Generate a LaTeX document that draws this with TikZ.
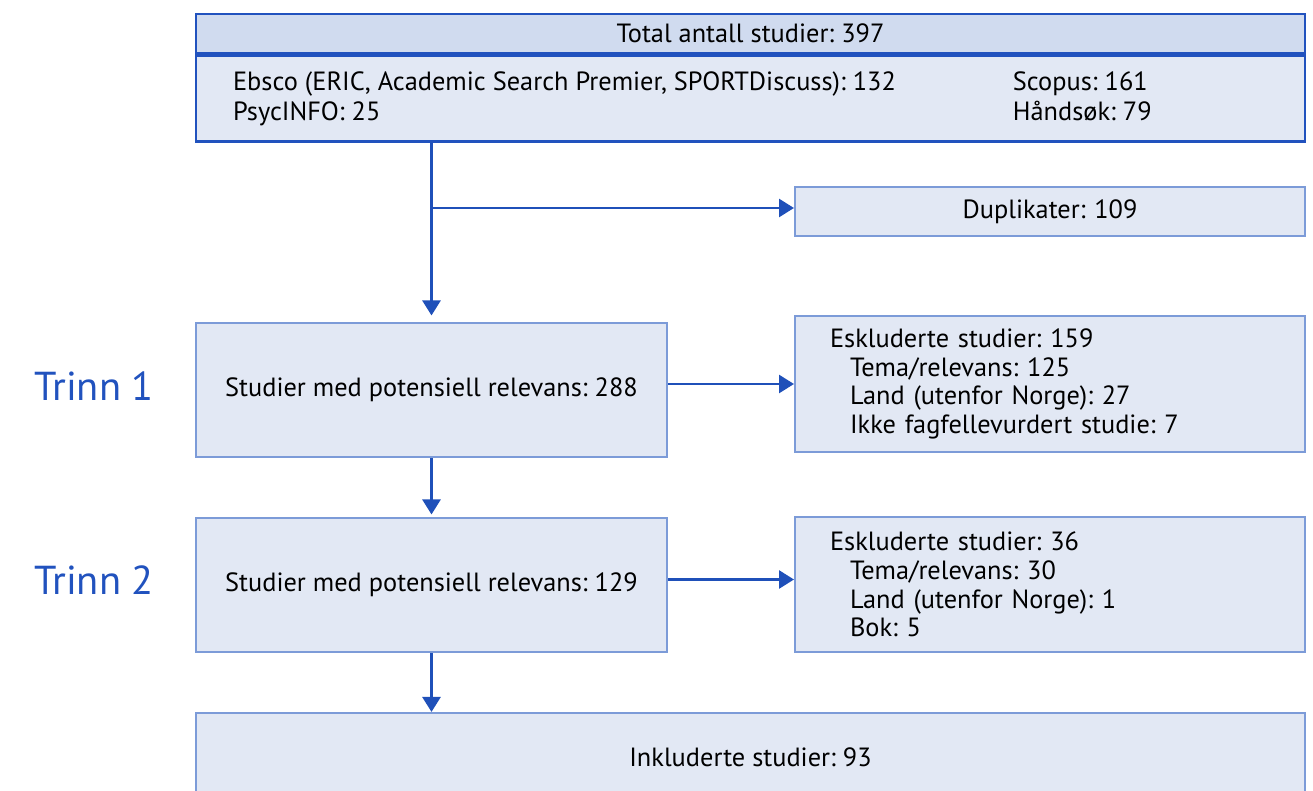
\documentclass[tikz,border=0pt]{standalone}
\usepackage{fontspec}
\setmainfont{PT Sans}
\usepackage{xcolor}
\usepackage{tikz}
\usetikzlibrary{arrows.meta, positioning, calc}
\definecolor{boxfill}{HTML}{E2E8F4}
\definecolor{headfill}{HTML}{D0DBEF}
\definecolor{darkline}{HTML}{2152BE}
\definecolor{lightline}{HTML}{7C9BD8}
\definecolor{arrowblue}{HTML}{1F50B9}
\tikzset{
  topbox/.style={draw=darkline, line width=1.5pt, fill=boxfill, minimum width=22.18cm, inner sep=0pt},
  stage/.style={draw=lightline, line width=1.2pt, fill=boxfill, minimum width=9.42cm, minimum height=2.68cm, align=center},
  sidebox/.style={draw=lightline, line width=1.2pt, fill=boxfill, text width=8.8cm, inner xsep=0.7cm, align=left},
  flow/.style={-{Triangle[length=3mm, width=3.6mm]}, line width=1.5pt, draw=arrowblue, fill=arrowblue},
  steplabel/.style={text=darkline, font=\fontsize{23}{27}\selectfont}
}
\newcommand{\ind}{\hspace*{0.4cm}}
\frenchspacing

\begin{document}
\begin{tikzpicture}[x=0.02cm, y=-0.02cm, font=\fontsize{15}{16.3}\selectfont]
        \path[use as bounding box, clip] (0,0) rectangle (1313,791);

        % Search results
        \node[topbox, fill=headfill, minimum height=0.78cm] (total) at (750.5,33.5) {Total antall studier: 397};
        \node[topbox, minimum height=1.72cm, below=0pt of total, align=left, font=\fontsize{15}{17}\selectfont] (sources)
          {\makebox[15.6cm][l]{Ebsco (ERIC, Academic Search Premier, SPORTDiscuss): 132}\makebox[5.1cm][l]{Scopus: 161}\\
           \makebox[15.6cm][l]{PsycINFO: 25}\makebox[5.1cm][l]{Håndsøk: 79}};

        % Screening
        \node[sidebox, minimum height=0.98cm, align=center] (dup) at (1050,211.5) {Duplikater: 109};
        \node[stage] (step1) at (431.5,390) {Studier med potensiell relevans: 288};
        \node[sidebox, minimum height=2.72cm] (excl1) at (1050,384)
          {Eskluderte studier: 159\\ \ind Tema/relevans: 125\\ \ind Land (utenfor Norge): 27\\ \ind Ikke fagfellevurdert studie: 7};
        \node[stage] (step2) at (431.5,585) {Studier med potensiell relevans: 129};
        \node[sidebox, minimum height=2.7cm] (excl2) at (1050,584.5)
          {Eskluderte studier: 36\\ \ind Tema/relevans: 30\\ \ind Land (utenfor Norge): 1\\ \ind Bok: 5};
        \node[stage, minimum width=22.18cm, minimum height=1.76cm] (incl) at (750.5,757) {Inkluderte studier: 93};

        % Stage labels
        \node[steplabel] (trinn1) at (94,386) {Trinn 1};
        \node[steplabel] (trinn2) at (94,580) {Trinn 2};

        % Links
        \coordinate (split) at (432,208);
        \draw[flow, shorten >=1.3mm] (sources.south -| step1.north) -- (step1.north);
        \draw[flow] (split) -- (split -| dup.west);
        \draw[flow] (excl1.west -| step1.east) -- (excl1.west);
        \draw[flow, shorten >=0.5mm] (step1.south) -- (step2.north);
        \draw[flow] ([yshift=0.1cm]excl2.west -| step2.east) -- ([yshift=0.1cm]excl2.west);
        \draw[flow] (step2.south) -- (step2.south |- incl.north);
    \end{tikzpicture}
\end{document}
